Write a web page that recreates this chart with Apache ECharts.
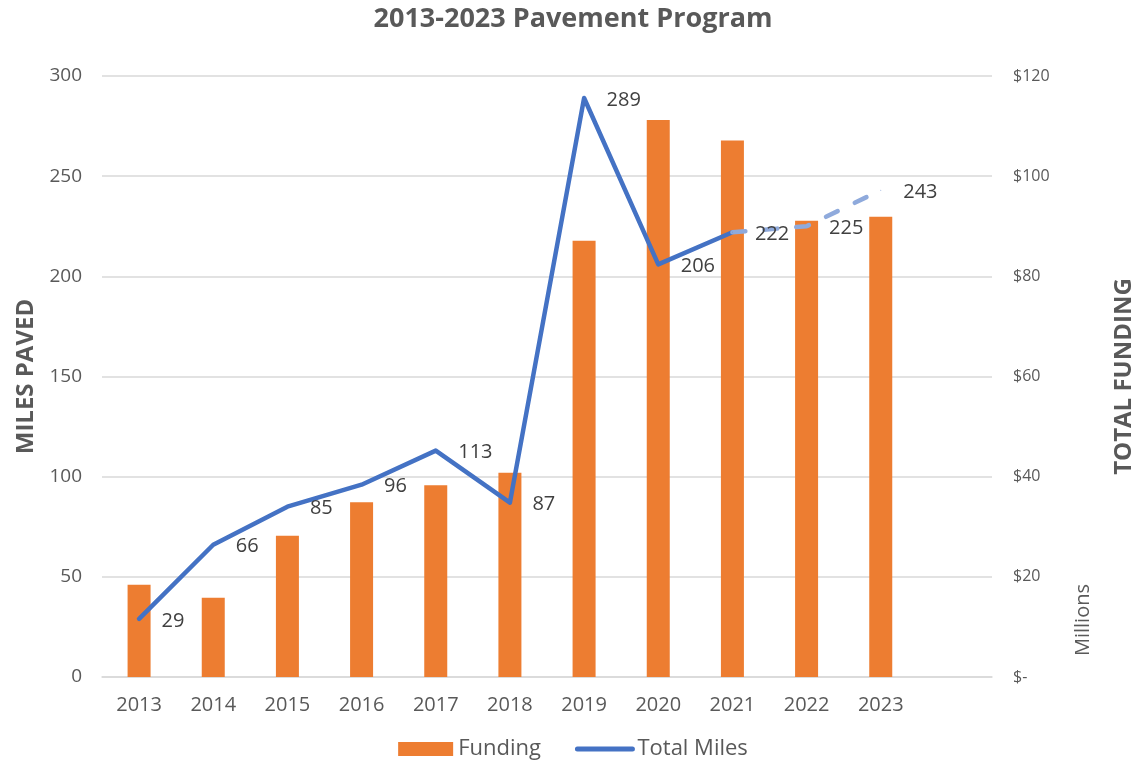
<!DOCTYPE html>
<html>
<head>
    <meta charset="utf-8" />
    <title>2013-2023 Pavement Program</title>
    <style>
        html, body { margin: 0; padding: 0; background: #fff; }
        #chart { width: 1146px; height: 761px; }
    </style>
</head>
<body>
    <div id="chart"></div>
    <script src="https://cdn.jsdelivr.net/npm/echarts@6/dist/echarts.min.js"></script>
    <script>
        // categories (last slot empty, like the source chart)
        var years = ['2013', '2014', '2015', '2016', '2017', '2018', '2019', '2020', '2021', '2022', '2023', ''];
        // funding, millions of dollars
        var funding = [18.4, 15.8, 28.2, 34.9, 38.3, 40.8, 87.1, 111.2, 107.1, 91.1, 91.9];
        // miles paved
        var miles = [29, 66, 85, 96, 113, 87, 289, 206, 222, 225, 243];
        // index where the projected (dashed) part starts
        var projectedFrom = 8;
        var leftTicks = [0, 300, 50];
        var rightTicks = [0, 120, 20];

        var font = 'Open Sans';
        var actual = miles.map(function (v, i) { return i <= projectedFrom ? v : '-'; });
        var projected = miles.map(function (v, i) {
            if (i < projectedFrom) return '-';
            if (i === projectedFrom) return { value: v, label: { show: false } };
            return v;
        });

        var labelStyle = {
            show: true,
            position: 'right',
            distance: 22,
            offset: [0, 2],
            color: '#404040',
            fontSize: 20,
            fontFamily: font
        };

        var myChart = echarts.init(document.getElementById('chart'));
        var option = {
            backgroundColor: '#fff',
            animation: false,
            title: {
                text: '2013-2023 Pavement Program',
                left: 'center',
                top: 1,
                textStyle: { color: '#595959', fontSize: 27, fontWeight: 'bold', fontFamily: font }
            },
            legend: {
                top: 733,
                left: 'center',
                itemWidth: 55,
                itemHeight: 14,
                itemGap: 34,
                data: [
                    { name: 'Funding', icon: 'rect' },
                    { name: 'Total Miles', itemStyle: { opacity: 0 }, lineStyle: { width: 5, cap: 'round' } }
                ],
                textStyle: { color: '#595959', fontSize: 22, fontFamily: font }
            },
            grid: { left: 102, right: 154, top: 76, bottom: 84 },
            xAxis: {
                type: 'category',
                data: years,
                axisLine: { lineStyle: { color: '#d9d9d9', width: 1.5 } },
                axisTick: { show: false },
                axisLabel: { color: '#595959', fontSize: 20, fontFamily: font, margin: 18 }
            },
            yAxis: [
                {
                    type: 'value',
                    min: leftTicks[0], max: leftTicks[1], interval: leftTicks[2],
                    name: 'MILES PAVED',
                    nameLocation: 'middle',
                    nameGap: 64,
                    nameTextStyle: { color: '#595959', fontSize: 24, fontWeight: 'bold', fontFamily: font },
                    axisLine: { show: false },
                    axisTick: { show: false },
                    axisLabel: { color: '#595959', fontSize: 19, fontFamily: font, margin: 20 },
                    splitLine: { lineStyle: { color: '#d9d9d9', width: 1.5 } }
                },
                {
                    type: 'value',
                    min: rightTicks[0], max: rightTicks[1], interval: rightTicks[2],
                    position: 'right',
                    name: 'TOTAL FUNDING',
                    nameLocation: 'middle',
                    nameGap: 120,
                    nameTextStyle: { color: '#595959', fontSize: 24, fontWeight: 'bold', fontFamily: font },
                    axisLine: { show: false },
                    axisTick: { show: false },
                    splitLine: { show: false },
                    axisLabel: {
                        color: '#595959', fontSize: 16, fontFamily: font, margin: 21,
                        formatter: function (v) { return v === 0 ? '$-' : '$' + v; }
                    }
                }
            ],
            graphic: [{
                type: 'text',
                left: 1073,
                top: 584,
                rotation: Math.PI / 2,
                style: { text: 'Millions', fill: '#595959', fontSize: 20, fontFamily: font }
            }],
            series: [
                {
                    name: 'Funding',
                    type: 'bar',
                    yAxisIndex: 1,
                    barWidth: 23,
                    itemStyle: { color: '#ED7D31' },
                    data: funding
                },
                {
                    name: 'Total Miles',
                    type: 'line',
                    yAxisIndex: 0,
                    symbol: 'circle',
                    symbolSize: 1,
                    lineStyle: { color: '#4472C4', width: 4.5, cap: 'round', join: 'round' },
                    itemStyle: { color: '#4472C4' },
                    label: labelStyle,
                    data: actual
                },
                {
                    name: 'Projected',
                    type: 'line',
                    yAxisIndex: 0,
                    symbol: 'circle',
                    symbolSize: 1,
                    lineStyle: { color: '#8FAADC', width: 4.5, type: [13, 19], cap: 'round' },
                    itemStyle: { color: '#8FAADC' },
                    label: labelStyle,
                    data: projected
                }
            ]
        };
        myChart.setOption(option);
    </script>
</body>
</html>
